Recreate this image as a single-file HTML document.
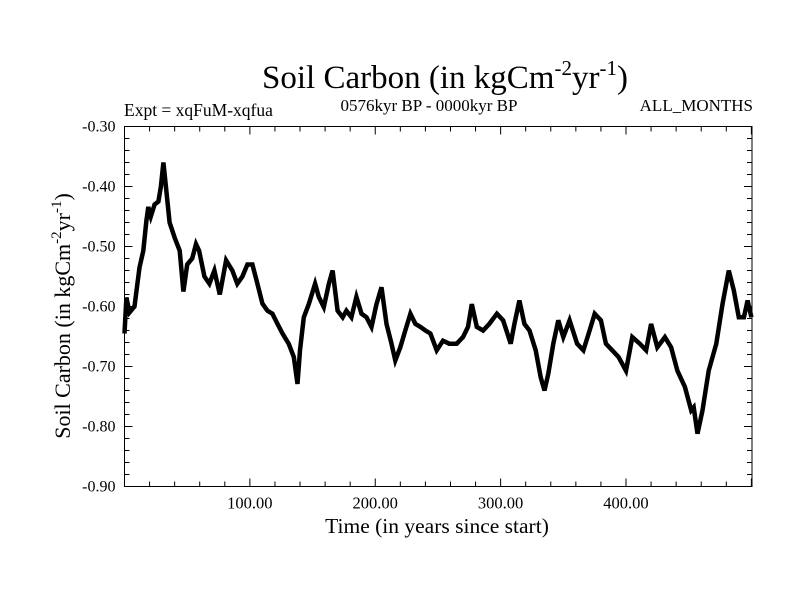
<!DOCTYPE html>
<html><head><meta charset="utf-8"><style>
body{margin:0;background:#fff}
svg{display:block;font-family:"Liberation Serif",serif}
</style></head><body>
<svg id="c" width="800" height="600" xmlns="http://www.w3.org/2000/svg">
<text x="445" y="88" font-size="33" text-anchor="middle">Soil Carbon (in kgCm<tspan dy="-13" font-size="21">-2</tspan><tspan dy="13">yr</tspan><tspan dy="-13" font-size="21">-1</tspan><tspan dy="13">)</tspan></text>
<text x="124" y="116" font-size="17.5">Expt = xqFuM-xqfua</text>
<text x="429" y="111" font-size="17" text-anchor="middle">0576kyr BP - 0000kyr BP</text>
<text x="753" y="111" font-size="17" text-anchor="end">ALL_MONTHS</text>
<text x="437" y="533" font-size="21.5" text-anchor="middle">Time (in years since start)</text>
<text transform="translate(70,316) rotate(-90)" font-size="22" text-anchor="middle">Soil Carbon (in kgCm<tspan dy="-9" font-size="15">-2</tspan><tspan dy="9">yr</tspan><tspan dy="-9" font-size="15">-1</tspan><tspan dy="9">)</tspan></text>
<g id="ax"></g>
<rect x="124.5" y="126.5" width="627.5" height="360" fill="none" stroke="#000" stroke-width="1"/>
</svg>
<script>
const years=[0,1.5,4,8,9.5,12,15,17.5,19,21,24,27,29,31,33,36,40,44,47,50,54,57,59.5,63.7,67.7,71.7,76,81,86,90,94,98,102,106,110,114,118,122,126,131,135,138,140,143,147,152,155,159,163,166,170,174,177,181,185,189,193,197,201,205,209,213,216,220,224,228,232,236,240,244,249,254,259,265,270,274,277,281,286,291,297,302,308,311,315,319,323,328,332,335,338,342,346,350,355,361,366,371,375,380,384,389,394,400,405,411,416,420,425,431,436,441,447,452,454,457,461,466,472,477,482,486,490,494,497,500];
const values=[-0.645,-0.585,-0.61,-0.6,-0.575,-0.535,-0.507,-0.457,-0.434,-0.45,-0.43,-0.425,-0.40,-0.36,-0.40,-0.46,-0.485,-0.507,-0.575,-0.53,-0.52,-0.496,-0.507,-0.55,-0.562,-0.54,-0.58,-0.523,-0.54,-0.562,-0.55,-0.53,-0.53,-0.562,-0.595,-0.607,-0.612,-0.629,-0.645,-0.662,-0.684,-0.729,-0.673,-0.618,-0.596,-0.562,-0.584,-0.601,-0.562,-0.54,-0.607,-0.618,-0.607,-0.618,-0.584,-0.612,-0.618,-0.634,-0.596,-0.568,-0.629,-0.662,-0.69,-0.668,-0.64,-0.612,-0.629,-0.634,-0.64,-0.645,-0.673,-0.657,-0.662,-0.662,-0.651,-0.634,-0.596,-0.634,-0.64,-0.629,-0.612,-0.623,-0.662,-0.629,-0.59,-0.629,-0.64,-0.673,-0.718,-0.74,-0.712,-0.662,-0.623,-0.651,-0.623,-0.662,-0.673,-0.64,-0.612,-0.623,-0.662,-0.673,-0.684,-0.707,-0.651,-0.662,-0.673,-0.629,-0.668,-0.651,-0.668,-0.707,-0.734,-0.773,-0.768,-0.812,-0.773,-0.707,-0.662,-0.596,-0.54,-0.573,-0.618,-0.618,-0.59,-0.618];
const xTicks=[100,200,300,400];
const xTickLabels=["100.00","200.00","300.00","400.00"];
const yTicks=[-0.30,-0.40,-0.50,-0.60,-0.70,-0.80,-0.90];
const yTickLabels=["-0.30","-0.40","-0.50","-0.60","-0.70","-0.80","-0.90"];
const X0=124.5,X1=752,Y0=126.5,Y1=486.5,XMIN=0,XMAX=500.5,YMIN=-0.9,YMAX=-0.3;
const xs=v=>X0+(v-XMIN)/(XMAX-XMIN)*(X1-X0);
const ys=v=>Y1-(v-YMIN)/(YMAX-YMIN)*(Y1-Y0);
const NS="http://www.w3.org/2000/svg";
const ax=document.getElementById('ax');
function mk(t,a){const e=document.createElementNS(NS,t);for(const k in a)e.setAttribute(k,a[k]);ax.appendChild(e);return e;}
for(let v=20;v<XMAX;v+=20){const maj=v%100===0;const L=maj?8:5;
const t1=mk('line',{x1:xs(v),x2:xs(v),y1:Y1,y2:Y1-L,stroke:'#000'});


const t2=mk('line',{x1:xs(v),x2:xs(v),y1:Y0,y2:Y0+L,stroke:'#000'});

}
xTicks.forEach((v,i)=>{const t=mk('text',{x:xs(v),y:Y1+22,'font-size':16.5,'text-anchor':'middle'});t.textContent=xTickLabels[i];

});
for(let k=0;k<=30;k++){const v=YMIN+k*0.02;const maj=k%5===0;const L=maj?8:5;
const t1=mk('line',{x1:X0,x2:X0+L,y1:ys(v),y2:ys(v),stroke:'#000'});


const t2=mk('line',{x1:X1,x2:X1-L,y1:ys(v),y2:ys(v),stroke:'#000'});

}
yTicks.forEach((v,i)=>{const t=mk('text',{x:X0-9,y:ys(v)+5,'font-size':16,'text-anchor':'end'});t.textContent=yTickLabels[i];

});
const d=years.map((y,i)=>(i?'L':'M')+xs(y).toFixed(1)+','+ys(values[i]).toFixed(1)).join('');
const p=mk('path',{d:d,fill:'none',stroke:'#000','stroke-width':4.5,'stroke-linejoin':'miter'});


</script>
</body></html>
